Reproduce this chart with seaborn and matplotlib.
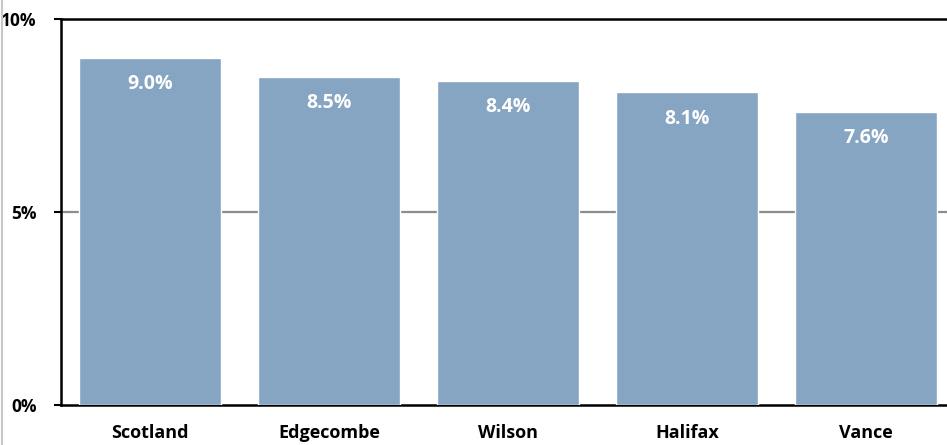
import matplotlib
matplotlib.use("Agg")
import matplotlib.pyplot as plt
from matplotlib.lines import Line2D
from matplotlib.ticker import FuncFormatter
import seaborn as sns
import pandas as pd

counties = ["Scotland", "Edgecombe", "Wilson", "Halifax", "Vance"]
rates = [9.0, 8.5, 8.4, 8.1, 7.6]
value_labels = ["9.0%", "8.5%", "8.4%", "8.1%", "7.6%"]
y_ticks = [0, 5, 10]

sns.set_theme(style="white")
plt.rcParams["font.family"] = ["Open Sans", "DejaVu Sans"]

df = pd.DataFrame({"county": counties, "rate": rates})

W, H = 947, 445
fig = plt.figure(figsize=(W / 100, H / 100), dpi=100)
left, right, top, bottom = 60.5, 955.5, 19, 405
ax = fig.add_axes([left / W, 1 - bottom / H, (right - left) / W, (bottom - top) / H])

sns.barplot(data=df, x="county", y="rate", color="#86A5C3", saturation=1,
            width=0.79, ax=ax, zorder=3)

ax.set_xlim(-0.5, len(counties) - 0.5)
ax.set_ylim(0, 10)
ax.set_yticks(y_ticks)
ax.yaxis.set_major_formatter(FuncFormatter(lambda v, p: f"{v:.0f}%"))
ax.axhline(5, color="#8c8c8c", lw=1.6, zorder=1)

for i, (v, lab) in enumerate(zip(rates, value_labels)):
    ax.text(i, v - 0.68, lab, ha="center", va="center", color="white",
            fontsize=14, fontweight="bold", zorder=4)

ax.set_xlabel("")
ax.set_ylabel("")
for s in ["left", "bottom", "top"]:
    ax.spines[s].set_visible(True)
    ax.spines[s].set_color("black")
    ax.spines[s].set_linewidth(1.8)
ax.spines["right"].set_visible(False)

ax.tick_params(axis="y", which="major", left=True, length=5, width=1.5,
               color="black", pad=12, labelsize=12.5)
ax.tick_params(axis="x", bottom=False, pad=8, labelsize=13)
for t in ax.get_yticklabels() + ax.get_xticklabels():
    t.set_fontweight("bold")
    t.set_color("black")

fig.add_artist(Line2D([1.5 / W, 1.5 / W], [0, 1], transform=fig.transFigure,
                      color="#c8c8c8", lw=1.5))

fig.savefig("out.png", dpi=100)
